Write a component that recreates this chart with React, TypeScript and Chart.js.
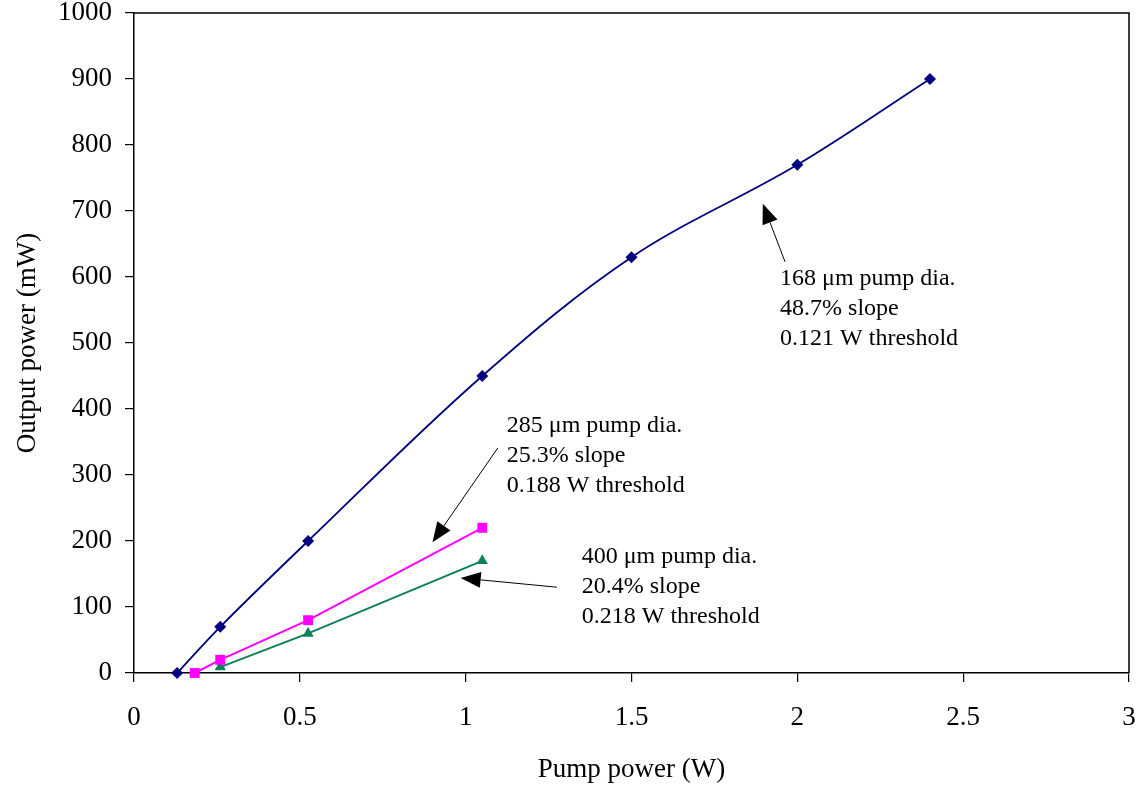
import React, { useEffect, useRef } from "react";
import { Chart, registerables } from "chart.js";

Chart.register(...registerables);

// ---- data ----
const pumpBlue = [0.13, 0.26, 0.525, 1.05, 1.5, 2.0, 2.4];
const outBlue = [0, 70, 200, 450, 630, 770, 900];
const pumpPink = [0.183, 0.26, 0.525, 1.05];
const outPink = [0, 20, 80, 220];
const pumpGreen = [0.26, 0.525, 1.05];
const outGreen = [9, 60, 170];

const xTicks = [0, 0.5, 1, 1.5, 2, 2.5, 3];
const yTicks = [0, 100, 200, 300, 400, 500, 600, 700, 800, 900, 1000];

const xTitle = "Pump power (W)";
const yTitle = "Output power (mW)";

const noteBlue = ["168 \u03bcm pump dia.", "48.7% slope", "0.121 W threshold"];
const notePink = ["285 \u03bcm pump dia.", "25.3% slope", "0.188 W threshold"];
const noteGreen = ["400 \u03bcm pump dia.", "20.4% slope", "0.218 W threshold"];

// annotation anchors in data units: [x, y of first line]
const notes = [
  { lines: noteBlue, at: [1.948, 597] },
  { lines: notePink, at: [1.124, 374] },
  { lines: noteGreen, at: [1.35, 176] },
];
// arrows: tail -> head in data units
const arrows = [
  { from: [1.963, 623], to: [1.896, 711] },
  { from: [1.097, 341], to: [0.9, 198] },
  { from: [1.275, 130], to: [0.985, 144] },
];

const FONT = "'Times New Roman', 'Liberation Serif', serif";

const zip = (xs: number[], ys: number[]) => xs.map((x, i) => ({ x, y: ys[i] }));

const annotatePlugin = {
  id: "annotate",
  beforeDatasetsDraw(chart: any) {
    const { ctx, chartArea } = chart;
    ctx.save();
    ctx.strokeStyle = "#000";
    ctx.lineWidth = 1.5;
    ctx.beginPath();
    ctx.moveTo(chartArea.left, chartArea.top);
    ctx.lineTo(chartArea.right, chartArea.top);
    ctx.lineTo(chartArea.right, chartArea.bottom);
    ctx.stroke();
    ctx.restore();
  },
  afterDatasetsDraw(chart: any) {
    const { ctx } = chart;
    const xs = chart.scales.x;
    const ys = chart.scales.y;
    ctx.save();
    ctx.fillStyle = "#000";
    ctx.font = `24px ${FONT}`;
    ctx.textBaseline = "middle";
    ctx.textAlign = "left";
    const lh = 30;
    notes.forEach((n) => {
      const px = xs.getPixelForValue(n.at[0]);
      const py = ys.getPixelForValue(n.at[1]);
      n.lines.forEach((l, i) => ctx.fillText(l, px, py + i * lh));
    });
    arrows.forEach((a) => {
      const x1 = xs.getPixelForValue(a.from[0]);
      const y1 = ys.getPixelForValue(a.from[1]);
      const x2 = xs.getPixelForValue(a.to[0]);
      const y2 = ys.getPixelForValue(a.to[1]);
      const ang = Math.atan2(y2 - y1, x2 - x1);
      const hl = 20;
      const hw = 8;
      const bx = x2 - hl * Math.cos(ang);
      const by = y2 - hl * Math.sin(ang);
      ctx.strokeStyle = "#000";
      ctx.lineWidth = 1;
      ctx.beginPath();
      ctx.moveTo(x1, y1);
      ctx.lineTo(bx, by);
      ctx.stroke();
      ctx.beginPath();
      ctx.moveTo(x2, y2);
      ctx.lineTo(bx + hw * Math.sin(ang), by - hw * Math.cos(ang));
      ctx.lineTo(bx - hw * Math.sin(ang), by + hw * Math.cos(ang));
      ctx.closePath();
      ctx.fill();
    });
    ctx.restore();
  },
};

export default function App() {
  const ref = useRef<HTMLCanvasElement>(null);
  useEffect(() => {
    document.body.style.margin = "0";
    const chart = new Chart(ref.current!, {
      type: "scatter",
      data: {
        datasets: [
          {
            label: "168 um",
            data: zip(pumpBlue, outBlue),
            showLine: true,
            borderColor: "#000080",
            backgroundColor: "#000080",
            borderWidth: 1.8,
            tension: 0.35,
            pointStyle: "rectRot",
            pointRadius: 6,
            pointBorderWidth: 0,
            clip: false,
          },
          {
            label: "285 um",
            data: zip(pumpPink, outPink),
            showLine: true,
            borderColor: "#FF00FF",
            backgroundColor: "#FF00FF",
            borderWidth: 2,
            tension: 0,
            pointStyle: "rect",
            pointRadius: 7,
            pointBorderWidth: 0,
            clip: false,
          },
          {
            label: "400 um",
            data: zip(pumpGreen, outGreen),
            showLine: true,
            borderColor: "#0D8059",
            backgroundColor: "#0D8059",
            borderWidth: 2,
            tension: 0,
            pointStyle: "triangle",
            pointRadius: 6.5,
            pointBorderWidth: 0,
            clip: false,
          },
        ],
      },
      options: {
        responsive: false,
        animation: false,
        layout: { padding: { top: 13, right: 13, left: 0, bottom: 0 } },
        plugins: { legend: { display: false }, tooltip: { enabled: false } },
        scales: {
          x: {
            type: "linear",
            min: xTicks[0],
            max: xTicks[xTicks.length - 1],
            afterFit: (s: any) => {
              s.height = 114;
              s.paddingLeft = 0;
              s.paddingRight = 0;
            },
            afterBuildTicks: (s: any) => {
              s.ticks = xTicks.map((v) => ({ value: v }));
            },
            ticks: {
              color: "#000",
              font: { family: FONT, size: 27 },
              padding: 20,
              maxRotation: 0,
              autoSkip: false,
              callback: (v: any) => String(v),
            },
            grid: {
              drawOnChartArea: false,
              drawTicks: true,
              tickLength: 9,
              color: "#000",
              lineWidth: 1.2,
            },
            border: { display: true, color: "#000", width: 1.5 },
            title: {
              display: true,
              text: xTitle,
              color: "#000",
              font: { family: FONT, size: 27 },
              padding: { top: 0, bottom: 1 },
            },
          },
          y: {
            type: "linear",
            min: yTicks[0],
            max: yTicks[yTicks.length - 1],
            afterFit: (s: any) => {
              s.width = 134;
              s.paddingTop = 0;
              s.paddingBottom = 0;
            },
            afterBuildTicks: (s: any) => {
              s.ticks = yTicks.map((v) => ({ value: v }));
            },
            ticks: {
              color: "#000",
              font: { family: FONT, size: 27 },
              padding: 13,
              autoSkip: false,
              callback: (v: any) => String(v),
            },
            grid: {
              drawOnChartArea: false,
              drawTicks: true,
              tickLength: 9,
              color: "#000",
              lineWidth: 1.2,
            },
            border: { display: true, color: "#000", width: 1.5 },
            title: {
              display: true,
              text: yTitle,
              color: "#000",
              font: { family: FONT, size: 27 },
              padding: { top: 12, bottom: 0 },
            },
          },
        },
      },
      plugins: [annotatePlugin],
    });
    return () => chart.destroy();
  }, []);
  return (
    <div style={{ width: 1142, height: 787, background: "#fff" }}>
      <canvas ref={ref} width={1142} height={787} />
    </div>
  );
}
